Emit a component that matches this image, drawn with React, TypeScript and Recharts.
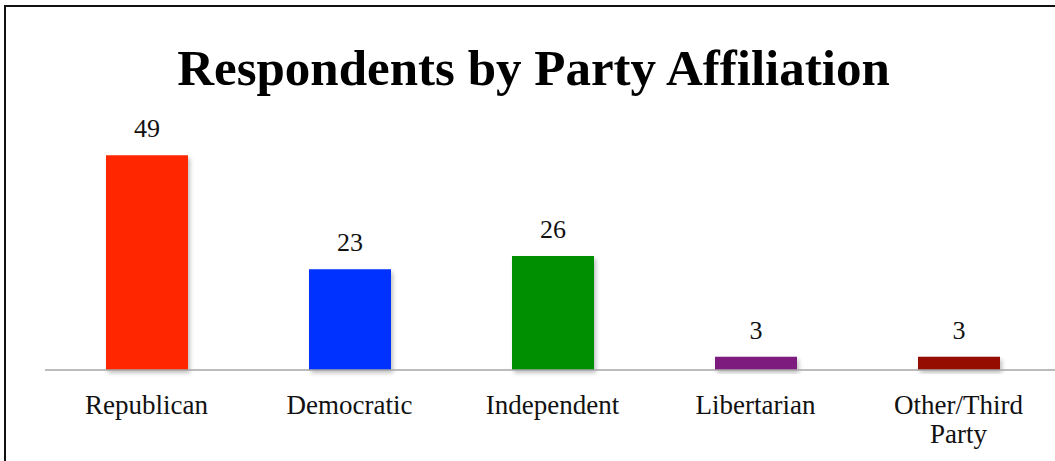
import React from 'react';
import { Bar, BarChart, Cell, LabelList, XAxis, YAxis } from 'recharts';

const parties = ['Republican', 'Democratic', 'Independent', 'Libertarian', 'Other/Third Party'];
const respondents = [49, 23, 26, 3, 3];
const barColors = ['#FF2600', '#0433FF', '#008F00', '#7D1B7E', '#941100'];

const data = parties.map((party, i) => ({ party, value: respondents[i] }));

const FONT = '"Liberation Serif", serif';

const PartyTick = (props: any) => {
  const { x, y, payload } = props;
  const text: string = payload.value;
  const lines = text.length > 12 ? text.split(' ') : [text];
  return (
    <text x={x} y={y} textAnchor="middle" fontFamily={FONT} fontSize={27} fill="#111">
      {lines.map((line, i) => (
        <tspan key={i} x={x} dy={i === 0 ? 36 : 29}>
          {line}
        </tspan>
      ))}
    </text>
  );
};

export default function App() {
  return (
    <div
      style={{
        position: 'fixed',
        left: 0,
        top: 0,
        width: 1055,
        height: 461,
        overflow: 'hidden',
        background: '#fff',
      }}
    >
      <div
        style={{
          position: 'absolute',
          left: 4,
          top: 5,
          width: 1200,
          height: 600,
          borderTop: '2px solid #111',
          borderLeft: '2px solid #111',
        }}
      />
      <div
        style={{
          position: 'absolute',
          left: 0,
          top: 38,
          width: 1067,
          textAlign: 'center',
          fontFamily: FONT,
          fontWeight: 'bold',
          fontSize: 51,
          lineHeight: '60px',
          color: '#000',
        }}
      >
        Respondents by Party Affiliation
      </div>
      <div style={{ position: 'absolute', left: 0, top: 0 }}>
        <BarChart
          width={1060}
          height={461}
          data={data}
          margin={{ top: 107, right: 0, bottom: 31, left: 45 }}
          barSize={82}
        >
          <defs>
            <filter id="barShadow" x="-10%" y="-10%" width="130%" height="140%">
              <feDropShadow dx="2" dy="3" stdDeviation="2" floodColor="#000" floodOpacity="0.25" />
            </filter>
          </defs>
          <YAxis hide domain={[0, 60]} />
          <XAxis
            dataKey="party"
            height={60}
            axisLine={{ stroke: '#a6a6a6', strokeWidth: 1.5 }}
            tickLine={false}
            tick={<PartyTick />}
            interval={0}
          />
          <Bar dataKey="value" isAnimationActive={false} filter="url(#barShadow)">
            {data.map((d, i) => (
              <Cell key={d.party} fill={barColors[i]} />
            ))}
            <LabelList
              dataKey="value"
              position="top"
              offset={18}
              fontFamily={FONT}
              fontSize={26}
              fill="#111"
            />
          </Bar>
        </BarChart>
      </div>
    </div>
  );
}
